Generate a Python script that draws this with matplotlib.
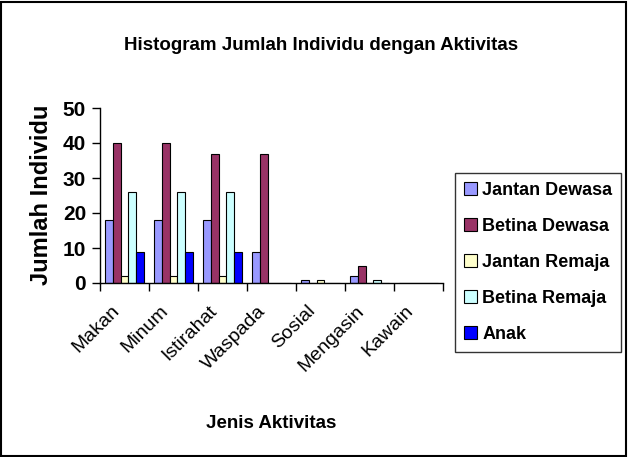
import numpy as np
import matplotlib.pyplot as plt
import matplotlib.transforms as mtransforms

plt.rcParams['font.family'] = ['Liberation Sans', 'DejaVu Sans']

kategori = ['Makan', 'Minum', 'Istirahat', 'Waspada', 'Sosial', 'Mengasin', 'Kawain']
jantan_dewasa = [18, 18, 18, 9, 1, 2, 0]
betina_dewasa = [40, 40, 37, 37, 0, 5, 0]
jantan_remaja = [2, 2, 2, 0, 1, 0, 0]
betina_remaja = [26, 26, 26, 0, 0, 1, 0]
anak = [9, 9, 9, 0, 0, 0, 0]

seri = [('Jantan Dewasa', jantan_dewasa, '#9999FF'),
        ('Betina Dewasa', betina_dewasa, '#993366'),
        ('Jantan Remaja', jantan_remaja, '#FFFFCC'),
        ('Betina Remaja', betina_remaja, '#CCFFFF'),
        ('Anak', anak, '#0000FF')]

W, H = 631, 457
fig = plt.figure(figsize=(W / 100, H / 100), dpi=100)
ax = fig.add_axes([100 / W, 1 - 283 / H, 343 / W, 175 / H])

x = np.arange(len(kategori))
bw = 0.16
for i, (nama, vals, col) in enumerate(seri):
    ax.bar(x + (i - 2) * bw, vals, bw, color=col, edgecolor='black', linewidth=0.8, label=nama)

ax.set_xlim(-0.5, len(kategori) - 0.5)
ax.set_ylim(0, 50)
ax.set_yticks([0, 10, 20, 30, 40, 50])
ax.tick_params(axis='y', direction='out', length=6, width=1, labelsize=15, pad=4)
for t in ax.get_yticklabels():
    t.set_fontweight('bold')

# ticks at category boundaries, labels at category centres
ax.set_xticks(np.arange(len(kategori) + 1) - 0.5, minor=False)
ax.set_xticklabels([])
ax.tick_params(axis='x', direction='out', length=6, width=1)
ax.set_xticks(x, minor=True)
ax.set_xticklabels(kategori, minor=True, rotation=45, ha='right', fontsize=14)
ax.tick_params(axis='x', which='minor', length=0, pad=14)
off = mtransforms.ScaledTranslation(-0.02, 0, fig.dpi_scale_trans)
for t in ax.get_xticklabels(minor=True):
    t.set_transform(t.get_transform() + off)

ax.spines['top'].set_visible(False)
ax.spines['right'].set_visible(False)
for s in ['left', 'bottom']:
    ax.spines[s].set_linewidth(1)

fig.text(321 / W, 1 - 45 / H, 'Histogram Jumlah Individu dengan Aktivitas',
         ha='center', va='center', fontsize=13.5, fontweight='bold')
fig.text(42 / W, 1 - 195 / H, 'Jumlah Individu', rotation=90,
         ha='center', va='center', fontsize=17, fontweight='bold')
fig.text(271 / W, 1 - 423 / H, 'Jenis Aktivitas',
         ha='center', va='center', fontsize=13.5, fontweight='bold')

leg = fig.legend(loc='upper left', bbox_to_anchor=(455 / W, 1 - 173 / H),
                 borderaxespad=0, frameon=True, fancybox=False, edgecolor='black',
                 prop={'size': 13, 'weight': 'bold'},
                 handlelength=0.7, handleheight=0.7, handletextpad=0.3,
                 labelspacing=1.05, borderpad=0.5)
leg.get_frame().set_linewidth(1)

fig.patches.append(plt.Rectangle((1 / W, 1 / H), 1 - 6 / W, 1 - 3 / H,
                                 transform=fig.transFigure, fill=False,
                                 edgecolor='black', linewidth=1.5))

fig.savefig('out.png', dpi=100)
